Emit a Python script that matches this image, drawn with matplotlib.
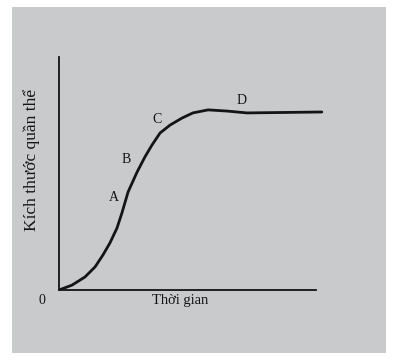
import matplotlib.pyplot as plt
from matplotlib.patches import Rectangle

# time (arbitrary units) and population size (arbitrary units)
time = [0, 4.8, 9.6, 13.3, 16.2, 18.8, 21.4, 23.2, 25.5, 28.8, 31.7, 34.3,
        37.3, 41.0, 45.4, 49.4, 55.0, 62.0, 69.4, 97.0]
size = [0, 2.1, 5.6, 9.9, 15.0, 20.2, 26.6, 33.0, 42.1, 50.6, 57.1, 62.2,
        67.4, 70.8, 73.8, 76.0, 77.3, 76.8, 76.0, 76.4]

phases = ["A", "B", "C", "D"]
x_label = "Thời gian"
y_label = "Kích thước quần thể"
axis_end = 94.8

plt.rcParams['font.family'] = ['Liberation Serif', 'DejaVu Serif']
ink = '#141414'

fig = plt.figure(figsize=(3.99, 3.62), dpi=100, facecolor='white')

# photographed page
fig.patches.append(Rectangle((12 / 399, 9 / 362), 374 / 399, 346 / 362,
                             transform=fig.transFigure, facecolor='#c8cacc',
                             edgecolor='none', zorder=-10))

ax = fig.add_axes([59 / 399, 72 / 362, 271 / 399, 233 / 362])
ax.set_zorder(5)
ax.set_facecolor('none')
ax.plot(time, size, color=ink, lw=2.0, solid_capstyle='round', solid_joinstyle='round')

ax.set_xlim(0, 100)
ax.set_ylim(0, 100)
for s in ['top', 'right']:
    ax.spines[s].set_visible(False)
ax.spines['left'].set_bounds(0, 100)
ax.spines['bottom'].set_bounds(0, axis_end)
for s in ['left', 'bottom']:
    ax.spines[s].set_color(ink)
    ax.spines[s].set_linewidth(1.3)
ax.set_xticks([])
ax.set_yticks([])

# phase letters
ax.text(20.3, 39.5, phases[0], fontsize=10, color=ink, ha='center', va='center')
ax.text(24.7, 55.8, phases[1], fontsize=10, color=ink, ha='center', va='center')
ax.text(36.2, 73.0, phases[2], fontsize=10, color=ink, ha='center', va='center')
ax.text(67.2, 81.5, phases[3], fontsize=10, color=ink, ha='center', va='center')

ax.text(-6.3, -4.3, "0", fontsize=10, color=ink, ha='center', va='center', clip_on=False)
ax.text(44.6, -4.3, x_label, fontsize=10.5, color=ink, ha='center', va='center', clip_on=False)
fig.text(32 / 399, 1 - 160 / 362, y_label, fontsize=12.5, color=ink, rotation=90,
         ha='center', va='center', zorder=6)

fig.savefig('out.png', dpi=100, facecolor='white')
